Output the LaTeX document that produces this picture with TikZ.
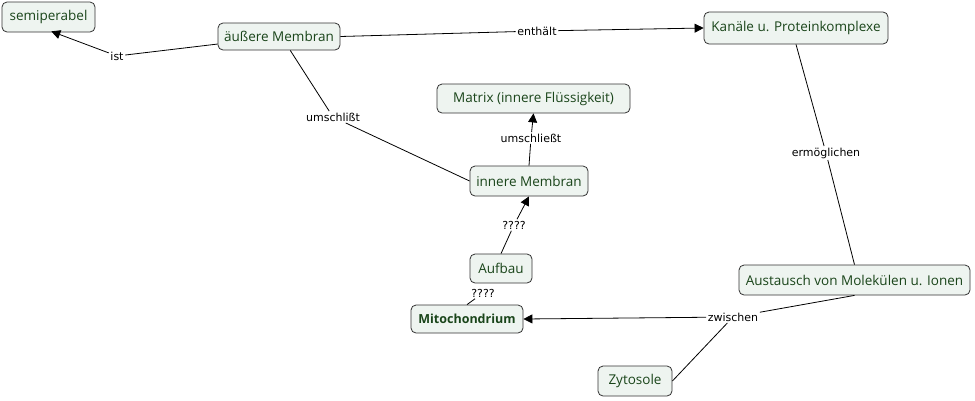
\documentclass[tikz,border=0pt]{standalone}
\usepackage{fontspec}
\setmainfont{DejaVu Sans}
\newfontfamily\nodefont{Open Sans}
\usetikzlibrary{arrows.meta}
\definecolor{boxfill}{HTML}{EEF4F0}
\definecolor{boxtext}{HTML}{1A451A}
\definecolor{boxline}{HTML}{333333}
\tikzset{
  concept/.style={draw=boxline, fill=boxfill, rounded corners=5pt, line width=0.8pt,
    text=boxtext, font=\nodefont\fontsize{13.5}{15}\selectfont, inner sep=0pt, align=center},
  lbl/.style={fill=white, inner sep=1.5pt, font=\fontsize{11}{13}\selectfont, text=black},
  conn/.style={draw=black, line width=0.8pt},
  arr/.style={conn, -{Triangle[length=9pt,width=9pt]}}
}
\begin{document}
\begin{tikzpicture}[x=1pt,y=-1pt]
\useasboundingbox (0,0) rectangle (975,400);
\fill[white] (0,0) rectangle (975,400);
% concepts
\node[concept, minimum width=93pt, minimum height=30pt] (semi) at (48.5,17) {semiperabel};
\node[concept, minimum width=122pt, minimum height=27pt] (aeuss) at (279,36.5) {äußere Membran};
\node[concept, minimum width=184pt, minimum height=32pt] (kanal) at (796,28) {Kanäle u. Proteinkomplexe};
\node[concept, minimum width=193pt, minimum height=29pt] (matrix) at (533.5,98.5) {Matrix (innere Flüssigkeit)};
\node[concept, minimum width=118pt, minimum height=30pt] (inner) at (529,181) {innere Membran};
\node[concept, minimum width=62pt, minimum height=29pt] (aufbau) at (501,268.5) {Aufbau};
\node[concept, minimum width=112pt, minimum height=28pt, font=\nodefont\bfseries\fontsize{12.5}{14}\selectfont] (mito) at (467,319) {Mitochondrium};
\node[concept, minimum width=231pt, minimum height=30pt] (aust) at (854.5,280) {Austausch von Molekülen u. Ionen};
\node[concept, minimum width=74pt, minimum height=30pt] (zyto) at (635,381) {Zytosole};
% labels
\node[lbl] (l1) at (117,56) {ist};
\node[lbl] (l2) at (537,31) {enthält};
\node[lbl] (l3) at (333,117) {umschlißt};
\node[lbl] (l4) at (531,138) {umschließt};
\node[lbl] (l5) at (514,225) {????};
\node[lbl] (l6) at (483,293) {????};
\node[lbl] (l7) at (826,153) {ermöglichen};
\node[lbl] (l8) at (733,317) {zwischen};
% connectors
\draw[conn] (aeuss.187) -- (l1);
\draw[arr, shorten >=-3pt] (l1) -- (semi.-70);
\draw[conn] (aeuss.east) -- (l2);
\draw[arr] (l2) -- (kanal.west);
\draw[conn] (aeuss.-51) -- (l3);
\draw[conn] (l3) -- (inner.west);
\draw[conn] (inner.north) -- (l4);
\draw[arr] (l4) -- (matrix.south);
\draw[conn] (aufbau.north) -- (l5);
\draw[arr] (l5) -- (inner.south);
\draw[conn] (l6) -- (mito.north);
\draw[conn] (kanal.south) -- (l7);
\draw[conn] (l7) -- (aust.north);
\draw[conn] (aust.south) -- (l8);
\draw[arr] (l8) -- (mito.east);
\draw[conn] (l8) -- (zyto.east);
\end{tikzpicture}
\end{document}
